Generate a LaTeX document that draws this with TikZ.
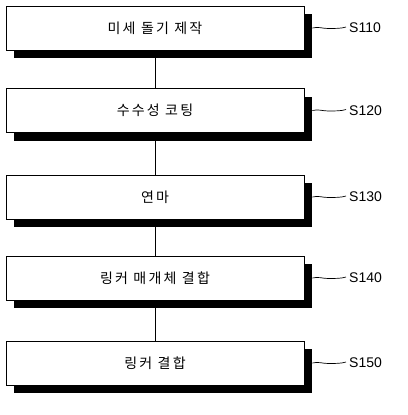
\documentclass[tikz,border=0pt]{standalone}
\usepackage{fontspec}
\setmainfont{Liberation Sans}
\newfontfamily\kr[LetterSpace=16]{Noto Sans CJK KR}
\usetikzlibrary{shadows}
\begin{document}
\begin{tikzpicture}[x=1pt,y=-1pt,
  stepbox/.style={draw=black,line width=0.8pt,fill=white,minimum width=298pt,minimum height=44pt,inner sep=0pt,
    font=\kr\fontsize{14}{16}\selectfont,
    drop shadow={shadow xshift=8pt,shadow yshift=-8pt,fill=black,opacity=1}},
  lbl/.style={anchor=west,inner sep=0pt,font=\fontsize{14}{16}\selectfont},
  link/.style={draw=black,line width=0.8pt},
  wave/.style={draw=black,line width=0.7pt}]
\useasboundingbox (0,0) rectangle (407,415);
\node[stepbox] (b1) at (155,28) {미세 돌기 제작};
\node[stepbox] (b2) at (155,110.5) {수수성 코팅};
\node[stepbox] (b3) at (155,197) {연마};
\node[stepbox] (b4) at (155,278) {링커 매개체 결합};
\node[stepbox] (b5) at (155,363) {링커 결합};
\foreach \i/\t/\y in {1/S110/28,2/S120/110.5,3/S130/197,4/S140/278,5/S150/363}{
  \node[lbl] (l\i) at (349,\y) {\t};
  \draw[wave] ([xshift=8pt]b\i.east) .. controls +(6,-1.5) and +(-6,0) .. ++(16,0.5) .. controls +(6,0) and +(-4,1.5) .. ([xshift=-3pt,yshift=1pt]l\i.west);
}
\draw[link] (b1.south) -- (b2.north);
\draw[link] (b2.south) -- (b3.north);
\draw[link] (b3.south) -- (b4.north);
\draw[link] (b4.south) -- (b5.north);
\end{tikzpicture}
\end{document}
